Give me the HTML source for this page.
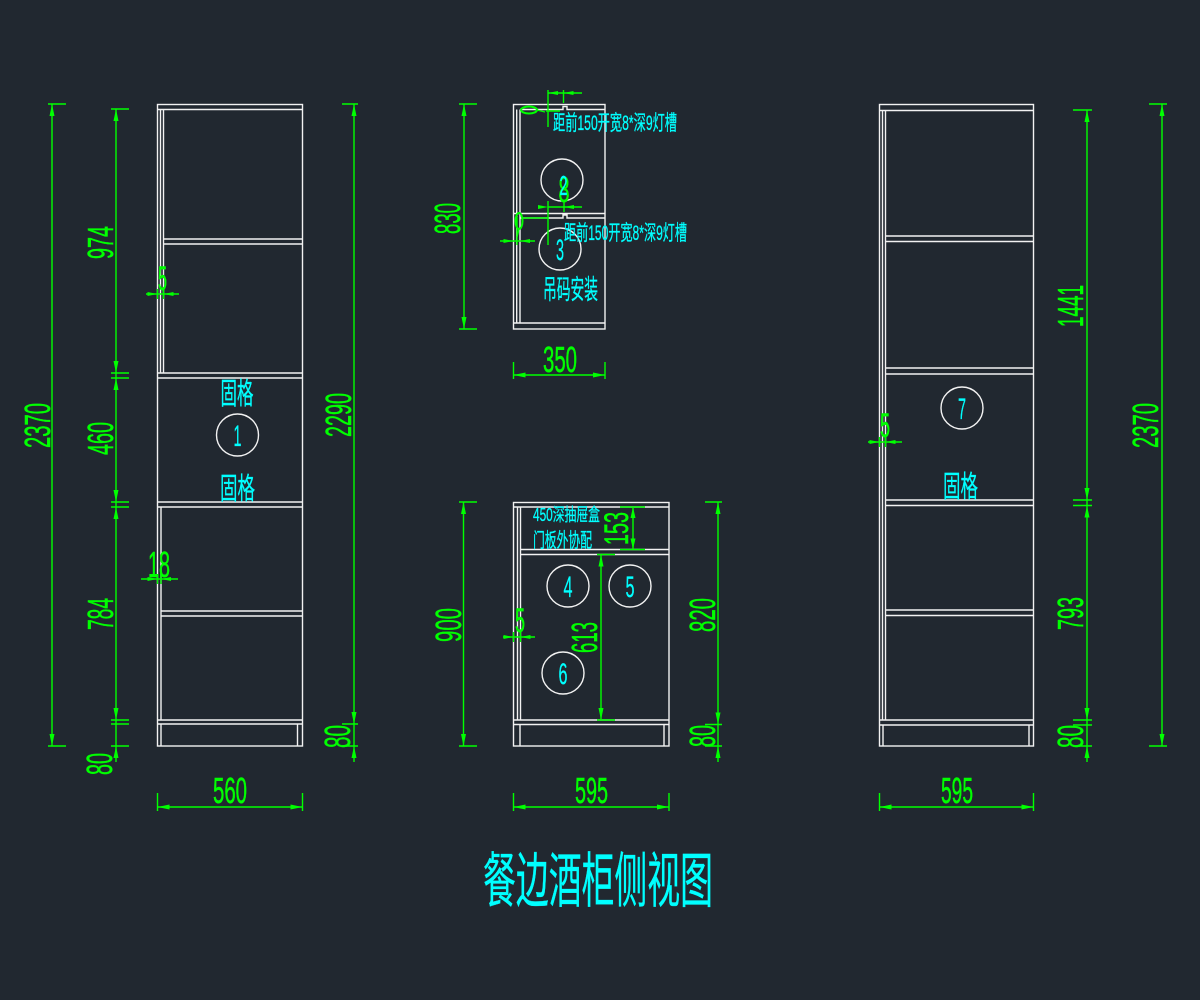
<!DOCTYPE html>
<html><head><meta charset="utf-8">
<style>
html,body{margin:0;padding:0;background:#212830;}
svg{display:block}
</style></head><body>
<svg width="1200" height="1000" viewBox="0 0 1200 1000" xmlns="http://www.w3.org/2000/svg">
<rect width="1200" height="1000" fill="#212830"/>
<g stroke="#f2f2f2" stroke-width="1.4" fill="none">
<rect x="157.5" y="104.5" width="145" height="641.5"/>
<path d="M157.5 109.5H302.5 M160.5 109.5V373 M163.5 109.5V373 M163.5 239H302.5 M163.5 244H302.5 M157.5 373H302.5 M157.5 378H302.5 M157.5 502H302.5 M157.5 507H302.5 M161 507V720 M161 611H302.5 M161 616H302.5 M157.5 720H302.5 M157.5 724H302.5 M161 724V746 M297.5 724V746"/>
<rect x="513.5" y="104.5" width="91.5" height="224.5"/>
<path d="M520 109.5H563V106.5H567V109.5H605 M516.7 109.5V323 M520 109.5V323 M513.5 213.5H605 M520 218H563V215H567V218H605 M513.5 323H605"/>
<rect x="513.5" y="502.5" width="155.5" height="243.5"/>
<path d="M513.5 507H669 M517.5 507V720 M520.5 507V720 M520.5 549.5H669 M520.5 554.5H669 M513.5 720H669 M513.5 724.5H669 M520 724.5V746 M664 724.5V746"/>
<rect x="879.5" y="104.5" width="154" height="641.5"/>
<path d="M879.5 110.5H1033.5 M882.5 110.5V720 M885.5 110.5V720 M885.5 236H1033.5 M885.5 241.5H1033.5 M885.5 368H1033.5 M885.5 374H1033.5 M885.5 500H1033.5 M885.5 505.5H1033.5 M885.5 610H1033.5 M885.5 615.5H1033.5 M879.5 720H1033.5 M879.5 725H1033.5 M883 725V746 M1029 725V746"/>
<circle cx="237.5" cy="435" r="21"/>
<circle cx="562" cy="180" r="21"/>
<circle cx="560" cy="249" r="21"/>
<circle cx="568" cy="586" r="21"/>
<circle cx="630" cy="586" r="21"/>
<circle cx="563" cy="673" r="21"/>
<circle cx="962" cy="408" r="21"/>
</g>
<g stroke="#00ff00" stroke-width="1.4" fill="none">
<path d="M52 104V746 M48 104H66 M48 746H66"/>
<path d="M116 109V762 M111 109H129 M111 373H129 M111 378H129 M111 502H129 M111 507H129 M111 720H129 M111 724H129 M111 746H129"/>
<path d="M354 104V762 M342 104H358 M342 724H358 M342 746H358"/>
<path d="M157.5 807H302.5 M157.5 793V811 M302.5 793V811"/>
<path d="M146 294H179 M157.5 289V299 M163.5 289V299"/>
<path d="M141 579H178 M157.5 574V584 M161 574V584"/>
<path d="M464 104V329 M459 104H477 M459 329H477"/>
<path d="M513.5 375H605 M513.5 362V379 M605 362V379"/>
<path d="M548 90V127 M563.5 90V103 M548 93H582 M546 111H560"/>
<path d="M548 201V245 M564 201V212 M548 207H582 M500 241H535 M517 217V245"/>
<ellipse cx="529" cy="110" rx="8" ry="3.5" stroke-width="2"/>
<path d="M537 110 L545 112"/>
<ellipse cx="519" cy="221" rx="3.5" ry="8" stroke-width="2"/>
<path d="M519 229 L517 237 M522 218 L548 218"/>
<path d="M463.5 502V746 M459 502H477 M459 746H477"/>
<path d="M718 502V762 M705 502H722 M705 724.5H722 M705 746H722"/>
<path d="M633 507V549.5 M620 507H645 M620 549.5H645"/>
<path d="M601 554.5V720 M597 554.5H615 M597 720H615"/>
<path d="M503 637H535 M513.5 632V642 M520.5 632V642"/>
<path d="M513.5 807H669 M513.5 793V811 M669 793V811"/>
<path d="M1087 110V762 M1073 110H1092 M1073 500H1092 M1073 505.5H1092 M1073 720H1092 M1073 725H1092 M1073 746H1092"/>
<path d="M1162 104V746 M1149 104H1167 M1149 746H1167"/>
<path d="M868 442H902 M879.5 437V447 M885.5 437V447"/>
<path d="M879.5 807H1033.5 M879.5 793V811 M1033.5 793V811"/>
</g>
<g fill="#00ff00" stroke="none">
<polygon points="52,104 49.5,116 54.5,116"/>
<polygon points="52,746 49.5,734 54.5,734"/>
<polygon points="116,109 113.5,121 118.5,121"/>
<polygon points="116,373 113.5,361 118.5,361"/>
<polygon points="116,378 113.5,390 118.5,390"/>
<polygon points="116,502 113.5,490 118.5,490"/>
<polygon points="116,507 113.5,519 118.5,519"/>
<polygon points="116,720 113.5,708 118.5,708"/>
<polygon points="116,746 113.5,758 118.5,758"/>
<polygon points="354,104 351.5,116 356.5,116"/>
<polygon points="354,724 351.5,712 356.5,712"/>
<polygon points="354,746 351.5,758 356.5,758"/>
<polygon points="157.5,807 169.5,804.5 169.5,809.5"/>
<polygon points="302.5,807 290.5,804.5 290.5,809.5"/>
<polygon points="157.5,294 147.5,292 147.5,296"/>
<polygon points="163.5,294 173.5,292 173.5,296"/>
<polygon points="157.5,579 147.5,577 147.5,581"/>
<polygon points="161,579 171,577 171,581"/>
<polygon points="464,104 461.5,116 466.5,116"/>
<polygon points="464,329 461.5,317 466.5,317"/>
<polygon points="513.5,375 525.5,372.5 525.5,377.5"/>
<polygon points="605,375 593,372.5 593,377.5"/>
<polygon points="463.5,502 461,514 466,514"/>
<polygon points="463.5,746 461,734 466,734"/>
<polygon points="718,502 715.5,514 720.5,514"/>
<polygon points="718,724.5 715.5,712.5 720.5,712.5"/>
<polygon points="718,746 715.5,758 720.5,758"/>
<polygon points="633,507 630.5,518 635.5,518"/>
<polygon points="633,549.5 630.5,538.5 635.5,538.5"/>
<polygon points="601,554.5 598.5,566.5 603.5,566.5"/>
<polygon points="601,720 598.5,708 603.5,708"/>
<polygon points="513.5,637 503.5,635 503.5,639"/>
<polygon points="520.5,637 530.5,635 530.5,639"/>
<polygon points="513.5,807 525.5,804.5 525.5,809.5"/>
<polygon points="669,807 657,804.5 657,809.5"/>
<polygon points="548,93 558,91 558,95"/>
<polygon points="563.5,93 573.5,91 573.5,95"/>
<polygon points="548,207 538,205 538,209"/>
<polygon points="564,207 574,205 574,209"/>
<polygon points="513.5,241 503.5,239 503.5,243"/>
<polygon points="520,241 530,239 530,243"/>
<polygon points="1087,110 1084.5,122 1089.5,122"/>
<polygon points="1087,500 1084.5,488 1089.5,488"/>
<polygon points="1087,505.5 1084.5,517.5 1089.5,517.5"/>
<polygon points="1087,720 1084.5,708 1089.5,708"/>
<polygon points="1087,746 1084.5,758 1089.5,758"/>
<polygon points="1162,104 1159.5,116 1164.5,116"/>
<polygon points="1162,746 1159.5,734 1164.5,734"/>
<polygon points="879.5,442 869.5,440 869.5,444"/>
<polygon points="885.5,442 895.5,440 895.5,444"/>
<polygon points="879.5,807 891.5,804.5 891.5,809.5"/>
<polygon points="1033.5,807 1021.5,804.5 1021.5,809.5"/>
</g>
<g fill="#00ff00" stroke="#00ff00" stroke-width="0.5" font-family="'Liberation Sans', sans-serif" font-size="36" text-anchor="middle">
<text x="230" y="803" textLength="34" lengthAdjust="spacingAndGlyphs">560</text>
<text x="560" y="372" textLength="34" lengthAdjust="spacingAndGlyphs">350</text>
<text x="591.5" y="803" textLength="33" lengthAdjust="spacingAndGlyphs">595</text>
<text x="957" y="803" textLength="32" lengthAdjust="spacingAndGlyphs">595</text>
<text x="159" y="577" textLength="22" lengthAdjust="spacingAndGlyphs">18</text>
<text x="162.5" y="290" font-size="34" textLength="9" lengthAdjust="spacingAndGlyphs">5</text>
<text x="520" y="632" font-size="34" textLength="10" lengthAdjust="spacingAndGlyphs">5</text>
<text x="885" y="437" font-size="34" textLength="10" lengthAdjust="spacingAndGlyphs">5</text>
<text x="564" y="202" font-size="36" textLength="11" lengthAdjust="spacingAndGlyphs">8</text>
<text transform="translate(50,425.5) rotate(-90)" textLength="45" lengthAdjust="spacingAndGlyphs">2370</text>
<text transform="translate(113,242.5) rotate(-90)" textLength="33" lengthAdjust="spacingAndGlyphs">974</text>
<text transform="translate(113,438.5) rotate(-90)" textLength="33" lengthAdjust="spacingAndGlyphs">460</text>
<text transform="translate(113,614) rotate(-90)" textLength="32" lengthAdjust="spacingAndGlyphs">784</text>
<text transform="translate(112,764) rotate(-90)" textLength="22" lengthAdjust="spacingAndGlyphs">80</text>
<text transform="translate(351,415) rotate(-90)" textLength="44" lengthAdjust="spacingAndGlyphs">2290</text>
<text transform="translate(350,736.5) rotate(-90)" textLength="23" lengthAdjust="spacingAndGlyphs">80</text>
<text transform="translate(460,218.5) rotate(-90)" textLength="31" lengthAdjust="spacingAndGlyphs">830</text>
<text transform="translate(461,625) rotate(-90)" textLength="34" lengthAdjust="spacingAndGlyphs">900</text>
<text transform="translate(628,528.5) rotate(-90)" font-size="34" textLength="33" lengthAdjust="spacingAndGlyphs">153</text>
<text transform="translate(597,637.5) rotate(-90)" textLength="31" lengthAdjust="spacingAndGlyphs">613</text>
<text transform="translate(715,615) rotate(-90)" textLength="34" lengthAdjust="spacingAndGlyphs">820</text>
<text transform="translate(715,736) rotate(-90)" textLength="22" lengthAdjust="spacingAndGlyphs">80</text>
<text transform="translate(1083,306) rotate(-90)" textLength="42" lengthAdjust="spacingAndGlyphs">1441</text>
<text transform="translate(1083,613.5) rotate(-90)" textLength="33" lengthAdjust="spacingAndGlyphs">793</text>
<text transform="translate(1083,736.5) rotate(-90)" textLength="23" lengthAdjust="spacingAndGlyphs">80</text>
<text transform="translate(1158,425.5) rotate(-90)" textLength="45" lengthAdjust="spacingAndGlyphs">2370</text>
</g>
<g fill="#00ffff" stroke="#00ffff" stroke-width="0.3" font-family="'Liberation Sans', 'Noto Sans CJK SC', sans-serif">
<g font-size="30" text-anchor="middle">
<text x="237.5" y="446" textLength="8" lengthAdjust="spacingAndGlyphs">1</text>
<text x="563.5" y="195" font-size="28" textLength="8" lengthAdjust="spacingAndGlyphs">2</text>
<text x="560" y="260" textLength="8" lengthAdjust="spacingAndGlyphs">3</text>
<text x="568" y="597" textLength="9" lengthAdjust="spacingAndGlyphs">4</text>
<text x="630" y="597" textLength="9" lengthAdjust="spacingAndGlyphs">5</text>
<text x="563" y="684" textLength="9" lengthAdjust="spacingAndGlyphs">6</text>
<text x="962" y="419" textLength="8" lengthAdjust="spacingAndGlyphs">7</text>
</g>
<text x="237" y="404" font-size="30" text-anchor="middle" textLength="33" lengthAdjust="spacingAndGlyphs">固格</text>
<text x="237.5" y="499" font-size="30" text-anchor="middle" textLength="35" lengthAdjust="spacingAndGlyphs">固格</text>
<text x="960.5" y="497" font-size="30" text-anchor="middle" textLength="35" lengthAdjust="spacingAndGlyphs">固格</text>
<text x="553" y="130" font-size="21" textLength="124" lengthAdjust="spacingAndGlyphs">距前150开宽8*深9灯槽</text>
<text x="564" y="240" font-size="21" textLength="123" lengthAdjust="spacingAndGlyphs">距前150开宽8*深9灯槽</text>
<text x="543" y="299" font-size="27" textLength="55" lengthAdjust="spacingAndGlyphs">吊码安装</text>
<text x="533" y="521" font-size="18" textLength="67" lengthAdjust="spacingAndGlyphs">450深抽屉盒</text>
<text x="533" y="547" font-size="20" textLength="59" lengthAdjust="spacingAndGlyphs">门板外协配</text>
<text x="598" y="902" font-size="60" text-anchor="middle" textLength="230" lengthAdjust="spacingAndGlyphs">餐边酒柜侧视图</text>
</g>
</svg>
</body></html>
